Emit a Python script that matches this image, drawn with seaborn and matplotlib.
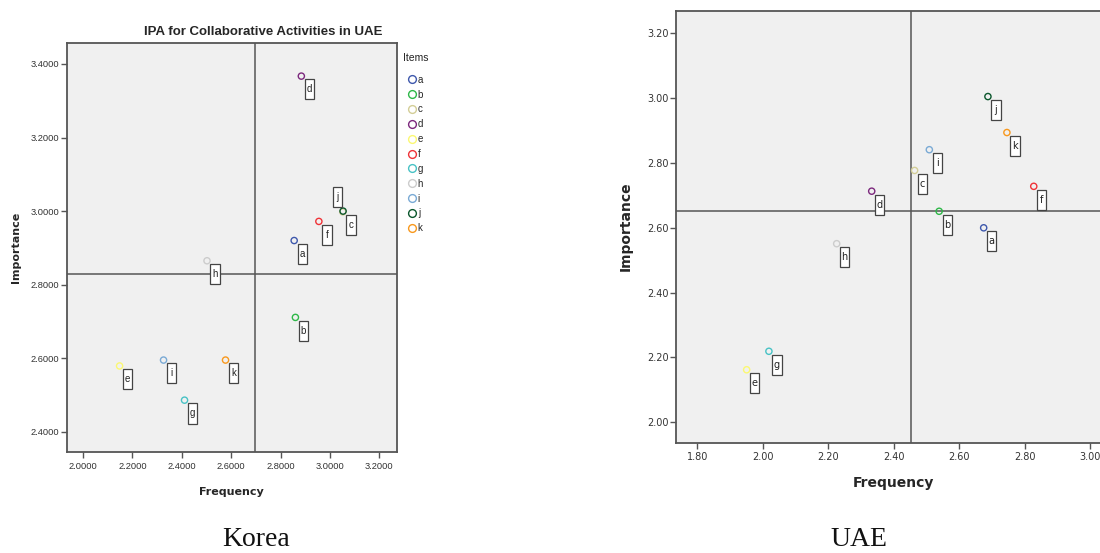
import matplotlib
matplotlib.use("Agg")
import matplotlib.pyplot as plt
import seaborn as sns
import pandas as pd
from matplotlib.path import Path
from matplotlib.lines import Line2D
from matplotlib.ticker import FormatStrFormatter

# values
items = ["a", "b", "c", "d", "e", "f", "g", "h", "i", "j", "k"]
item_colors = ["#3E58AC", "#2EB848", "#D3CE97", "#7C287D", "#FBF873", "#EF3338",
               "#48C2C5", "#CCCCCC", "#7AAAD5", "#0A562C", "#F8981D"]

korea_freq = [2.855, 2.860, 3.052, 2.884, 2.148, 2.955, 2.411, 2.502, 2.326, 3.053, 2.577]
korea_imp = [2.920, 2.711, 2.998, 3.367, 2.579, 2.972, 2.486, 2.865, 2.595, 3.000, 2.595]
korea_freq_mean = 2.695
korea_imp_mean = 2.828
korea_xticks = [2.0, 2.2, 2.4, 2.6, 2.8, 3.0, 3.2]
korea_yticks = [2.4, 2.6, 2.8, 3.0, 3.2, 3.4]

uae_freq = [2.675, 2.539, 2.464, 2.333, 1.951, 2.828, 2.019, 2.226, 2.509, 2.688, 2.746]
uae_imp = [2.600, 2.651, 2.777, 2.713, 2.162, 2.728, 2.219, 2.551, 2.841, 3.005, 2.894]
uae_freq_mean = 2.453
uae_imp_mean = 2.651
uae_xticks = [1.8, 2.0, 2.2, 2.4, 2.6, 2.8, 3.0]
uae_yticks = [2.0, 2.2, 2.4, 2.6, 2.8, 3.0, 3.2]

sns.set_style("white", {"axes.facecolor": "#F0F0F0", "axes.edgecolor": "#555555"})
plt.rcParams["font.family"] = ["Liberation Sans", "DejaVu Sans"]

FRAME = "#555555"


def tall_box(x0, y0, width, height, mutation_size):
    # narrow, tall label box like the SPSS point labels
    cx = x0 + width / 2
    cy = y0 + height / 2
    hw = 0.48 * mutation_size
    hh = 1.03 * mutation_size
    return Path([(cx - hw, cy - hh), (cx + hw, cy - hh), (cx + hw, cy + hh),
                 (cx - hw, cy + hh), (cx - hw, cy - hh)], closed=True)


def draw_panel(ax, freq, imp, vline, hline, xlim, ylim, xticks, yticks, fmt,
               tick_font, tick_size, label_font, label_size, offsets):
    df = pd.DataFrame({"Frequency": freq, "Importance": imp, "Item": items})
    sns.scatterplot(data=df, x="Frequency", y="Importance", hue="Item",
                    palette=item_colors, s=20, legend=False, ax=ax, zorder=3)
    pts = ax.collections[-1]
    pts.set_edgecolors(pts.get_facecolors().copy())
    pts.set_facecolors("none")
    pts.set_linewidths(1.0)

    ax.axvline(vline, color=FRAME, lw=1.1, zorder=2)
    ax.axhline(hline, color=FRAME, lw=1.1, zorder=2)

    for i, it in enumerate(items):
        off = offsets.get(it, (5.8, -9.6))
        ax.annotate(it, (freq[i], imp[i]), xytext=off, textcoords="offset points",
                    ha="center", va="center", fontsize=7, color="#222222",
                    family=tick_font,
                    bbox=dict(boxstyle=tall_box, fc="white", ec="#444444", lw=0.9),
                    zorder=4)

    ax.set_xlim(*xlim)
    ax.set_ylim(*ylim)
    ax.set_xticks(xticks)
    ax.set_yticks(yticks)
    ax.xaxis.set_major_formatter(FormatStrFormatter(fmt))
    ax.yaxis.set_major_formatter(FormatStrFormatter(fmt))
    ax.tick_params(bottom=True, left=True, direction="out", length=4.5, width=1,
                   color=FRAME, labelcolor="#333333", labelsize=tick_size)
    ax.tick_params(axis="y", pad=0.8)
    ax.tick_params(axis="x", pad=2.5)
    for lab in ax.get_xticklabels() + ax.get_yticklabels():
        lab.set_family(tick_font)
    for sp in ax.spines.values():
        sp.set_color(FRAME)
        sp.set_linewidth(1.3)
    ax.set_xlabel("Frequency", fontsize=label_size, fontweight="bold", family=label_font)
    ax.set_ylabel("Importance", fontsize=label_size, fontweight="bold", family=label_font)


fig = plt.figure(figsize=(11, 5.53), dpi=100)

ax1 = fig.add_axes([0.0609, 0.1826, 0.2997, 0.7396])
draw_panel(ax1, korea_freq, korea_imp, korea_freq_mean, korea_imp_mean,
           (1.935, 3.270), (2.345, 3.457), korea_xticks, korea_yticks, "%.4f",
           ["Liberation Sans", "DejaVu Sans"], 6.7, ["DejaVu Sans"], 8,
           {"j": (-4.1, 10.1)})
ax1.xaxis.set_label_coords(0.5, -0.085)
ax1.yaxis.set_label_coords(-0.14, 0.5)
ax1.set_title("IPA for Collaborative Activities in UAE", fontsize=9.5,
              fontweight="bold", x=0.595, y=1.0)

# legend: title as its own text, entries below
fig.text(0.3662, 0.895, "Items", fontsize=7.5, ha="left", va="center", color="#222222")
handles = [Line2D([], [], marker="o", ls="none", mfc="none", mec=c, mew=1, ms=5.6)
           for c in item_colors]
leg = fig.legend(handles, items, loc="upper left",
                 bbox_to_anchor=(0.371, 0.865), frameon=False, fontsize=7,
                 handlelength=0.7, handletextpad=0.3, labelspacing=0.5,
                 borderpad=0, borderaxespad=0)

ax2 = fig.add_axes([0.6145, 0.1995, 0.3973, 0.7812])
draw_panel(ax2, uae_freq, uae_imp, uae_freq_mean, uae_imp_mean,
           (1.735, 3.07), (1.937, 3.270), uae_xticks, uae_yticks, "%.2f",
           ["DejaVu Sans"], 7, ["DejaVu Sans"], 10, {})
ax2.xaxis.set_label_coords(0.497, -0.076)
ax2.yaxis.set_label_coords(-0.099, 0.5)

fig.text(0.233, 0.001, "Korea", family="Liberation Serif", fontsize=20,
         ha="center", va="bottom", color="#111111")
fig.text(0.781, 0.001, "UAE", family="Liberation Serif", fontsize=20,
         ha="center", va="bottom", color="#111111")

fig.savefig("out.png", dpi=100)
